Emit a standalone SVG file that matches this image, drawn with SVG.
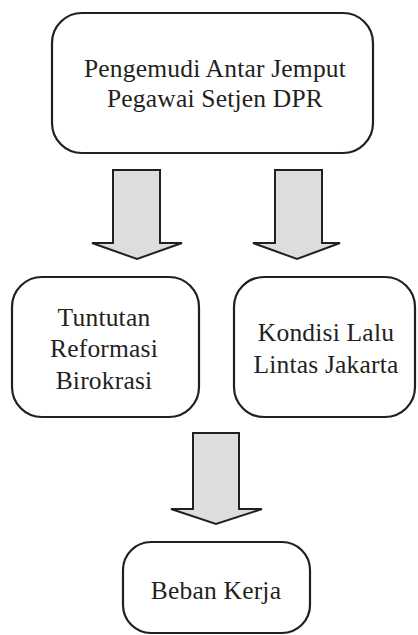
<svg xmlns="http://www.w3.org/2000/svg" width="418" height="635" viewBox="0 0 418 635">
<style>
.box{fill:#fff;stroke:#231f20;stroke-width:2.2}
.arr{fill:#dcdddf;stroke:#231f20;stroke-width:2;stroke-linejoin:miter}
text{font-family:"Liberation Serif","Times New Roman",serif;font-size:25.5px;fill:#231f20;text-anchor:middle;letter-spacing:0.2px}
</style>
<rect width="418" height="635" fill="#fff"/>
<g id="connectors">
<polygon class="arr" points="113,170 160,170 160,243 182,243 137,259 92,243 113,243"/>
<polygon class="arr" points="275,170 322,170 322,243 340,243 297,259 253,243 275,243"/>
<polygon class="arr" points="193,433 239,433 239,509 262,509 216,524 171,509 193,509"/>
</g>
<g id="top">
<rect class="box" x="52" y="13" width="321" height="140" rx="30"/>
<text x="215" y="77">Pengemudi Antar Jemput</text>
<text x="215" y="107">Pegawai Setjen DPR</text>
</g>
<g id="tuntutan">
<rect class="box" x="12" y="277" width="187" height="140" rx="30"/>
<text x="104" y="326">Tuntutan</text>
<text x="104" y="357">Reformasi</text>
<text x="104" y="389">Birokrasi</text>
</g>
<g id="kondisi">
<rect class="box" x="234" y="277" width="181" height="140" rx="30"/>
<text x="326" y="341">Kondisi Lalu</text>
<text x="326" y="373">Lintas Jakarta</text>
</g>
<g id="beban">
<rect class="box" x="123" y="542" width="187" height="91" rx="28"/>
<text x="216" y="599">Beban Kerja</text>
</g>
</svg>
